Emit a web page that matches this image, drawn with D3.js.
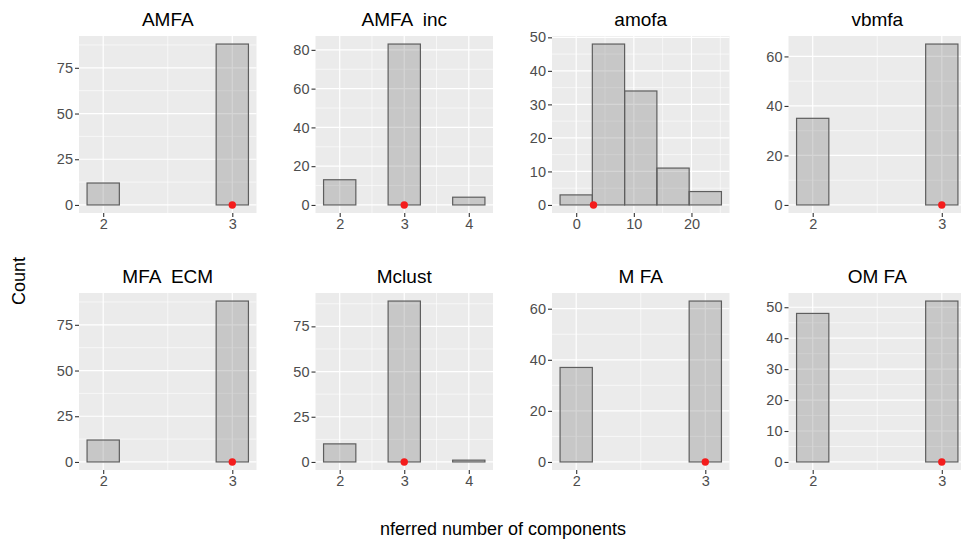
<!DOCTYPE html>
<html>
<head>
<meta charset="utf-8">
<script src="https://cdn.jsdelivr.net/npm/d3@7"></script>
<style>
  body { margin: 0; background: #fff; }
  text { font-family: "Liberation Sans", Arial, Helvetica, sans-serif; }
</style>
</head>
<body>
<div id="chart"></div>
<script>
// one histogram per method, 5 bins each, red dot = true number of components
const titles = ['AMFA', 'AMFA  inc', 'amofa', 'vbmfa', 'MFA  ECM', 'Mclust', 'M FA', 'OM FA'];
const binStart = [2, 2, 0, 2, 2, 2, 2, 2];
const binWidth = [0.25, 0.5, 5.6, 0.25, 0.25, 0.5, 0.25, 0.25];
const counts = [
  [12, 0, 0, 0, 88],
  [13, 0, 83, 0, 4],
  [3, 48, 34, 11, 4],
  [35, 0, 0, 0, 65],
  [12, 0, 0, 0, 88],
  [10, 0, 89, 0, 1],
  [37, 0, 0, 0, 63],
  [48, 0, 0, 0, 52],
];
const xTicks = [[2, 3], [2, 3, 4], [0, 10, 20], [2, 3], [2, 3], [2, 3, 4], [2, 3], [2, 3]];
const yTicks = [
  [0, 25, 50, 75],
  [0, 20, 40, 60, 80],
  [0, 10, 20, 30, 40, 50],
  [0, 20, 40, 60],
  [0, 25, 50, 75],
  [0, 25, 50, 75],
  [0, 20, 40, 60],
  [0, 10, 20, 30, 40, 50],
];
const trueK = 3;

const width = 961, height = 543;
const panelW = 177.5, panelH = 177;
const colStep = 236.5, rowStep = 257;
const left0 = 79, top0 = 36;

const svg = d3.select('#chart').append('svg').attr('width', width).attr('height', height);

function minors(ticks, domain) {
  const step = ticks[1] - ticks[0];
  const out = [];
  for (let v = ticks[0] - step / 2; v <= ticks[ticks.length - 1] + step; v += step) {
    if (v >= domain[0] && v <= domain[1]) out.push(v);
  }
  return out;
}

titles.forEach((title, i) => {
  const col = i % 4, row = Math.floor(i / 4);
  const g = svg.append('g')
    .attr('transform', `translate(${left0 + col * colStep},${top0 + row * rowStep})`);

  const w = binWidth[i];
  const bins = counts[i].map((c, j) => ({ mid: binStart[i] + j * w, n: c }));
  const lo = bins[0].mid - w / 2, hi = bins[bins.length - 1].mid + w / 2;
  const pad = 0.05 * (hi - lo);
  const x = d3.scaleLinear().domain([lo - pad, hi + pad]).range([0, panelW]);
  const ymax = d3.max(counts[i]);
  const y = d3.scaleLinear().domain([-0.05 * ymax, 1.05 * ymax]).range([panelH, 0]);

  g.append('rect').attr('width', panelW).attr('height', panelH).attr('fill', '#EBEBEB');

  // grid
  g.selectAll('line.ymin').data(minors(yTicks[i], y.domain())).enter().append('line')
    .attr('x1', 0).attr('x2', panelW).attr('y1', d => y(d)).attr('y2', d => y(d))
    .attr('stroke', '#fff').attr('stroke-width', 0.6);
  g.selectAll('line.xmin').data(minors(xTicks[i], x.domain())).enter().append('line')
    .attr('y1', 0).attr('y2', panelH).attr('x1', d => x(d)).attr('x2', d => x(d))
    .attr('stroke', '#fff').attr('stroke-width', 0.6);
  g.selectAll('line.ymaj').data(yTicks[i]).enter().append('line')
    .attr('x1', 0).attr('x2', panelW).attr('y1', d => y(d)).attr('y2', d => y(d))
    .attr('stroke', '#fff').attr('stroke-width', 1.2);
  g.selectAll('line.xmaj').data(xTicks[i]).enter().append('line')
    .attr('y1', 0).attr('y2', panelH).attr('x1', d => x(d)).attr('x2', d => x(d))
    .attr('stroke', '#fff').attr('stroke-width', 1.2);

  // bars
  g.selectAll('rect.bar').data(bins).enter().append('rect')
    .attr('class', 'bar')
    .attr('x', d => x(d.mid - w / 2))
    .attr('width', d => x(d.mid + w / 2) - x(d.mid - w / 2))
    .attr('y', d => y(d.n))
    .attr('height', d => y(0) - y(d.n))
    .attr('fill', '#808080').attr('fill-opacity', 0.33)
    .attr('stroke', '#5e5e5e').attr('stroke-width', 1.2);

  g.append('circle').attr('cx', x(trueK)).attr('cy', y(0)).attr('r', 3.7).attr('fill', '#f41c1c');

  // axes
  const ya = g.append('g')
    .call(d3.axisLeft(y).tickValues(yTicks[i]).tickFormat(d3.format('d')).tickSize(4).tickPadding(2));
  const xa = g.append('g').attr('transform', `translate(0,${panelH})`)
    .call(d3.axisBottom(x).tickValues(xTicks[i]).tickFormat(d3.format('d')).tickSize(4).tickPadding(2));
  [ya, xa].forEach(a => {
    a.select('.domain').remove();
    a.selectAll('line').attr('stroke', '#333').attr('stroke-width', 1.1);
    a.selectAll('text').attr('fill', '#4D4D4D').style('font-size', '14.5px')
      .style('font-family', '"Liberation Sans", Arial, Helvetica, sans-serif');
  });

  g.append('text')
    .attr('x', panelW / 2).attr('y', -10)
    .attr('text-anchor', 'middle')
    .style('white-space', 'pre')
    .style('font-size', '19px')
    .attr('fill', '#000')
    .text(title);
});

svg.append('text')
  .attr('transform', 'translate(24.5,281) rotate(-90)')
  .attr('text-anchor', 'middle')
  .style('font-size', '18px')
  .text('Count');

svg.append('text')
  .attr('x', 503).attr('y', 535)
  .attr('text-anchor', 'middle')
  .style('font-size', '18px')
  .text('nferred number of components');
</script>
</body>
</html>
